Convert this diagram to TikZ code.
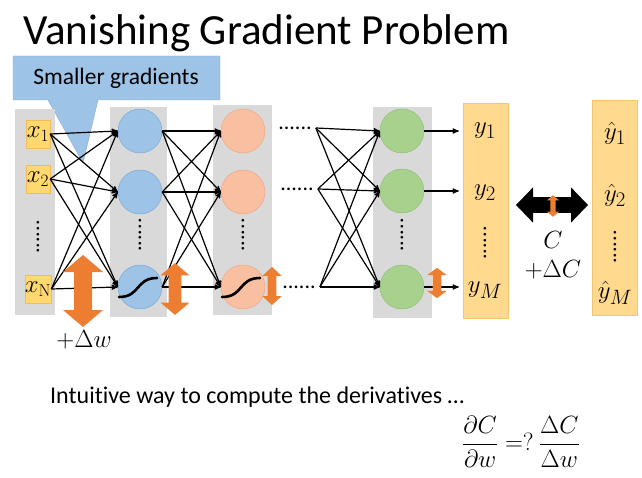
\documentclass[tikz,border=0pt]{standalone}
\usepackage{amsmath}
\usepackage[no-math]{fontspec}
\setmainfont{Carlito}[Ligatures=NoCommon]
\usetikzlibrary{arrows,positioning,calc}

\definecolor{callblue}{HTML}{9DC3E6}
\definecolor{callline}{HTML}{86ACD8}
\definecolor{laygray}{HTML}{D9D9D9}
\definecolor{inyellow}{HTML}{FFD870}
\definecolor{inline}{HTML}{F2BC5C}
\definecolor{outyellow}{HTML}{FFD98E}
\definecolor{outline}{HTML}{F6C56F}
\definecolor{unitblue}{HTML}{9DC3E6}
\definecolor{blueline}{HTML}{72A4D6}
\definecolor{unitorange}{HTML}{F8BFA0}
\definecolor{orangeline}{HTML}{EFA27F}
\definecolor{unitgreen}{HTML}{A9D18E}
\definecolor{greenline}{HTML}{8DBB6E}
\definecolor{arrorange}{HTML}{ED7D31}

\begin{document}
\begin{tikzpicture}[x=1pt,y=-1pt,>=stealth',on grid,
  layer/.style={fill=laygray},
  inbox/.style={rectangle,draw=inline,fill=inyellow,minimum width=24pt,minimum height=28pt,inner sep=0pt,font=\fontsize{23}{25}\selectfont},
  unit/.style={circle,minimum size=44pt,inner sep=0pt},
  blueunit/.style={unit,fill=unitblue,draw=blueline},
  orangeunit/.style={unit,fill=unitorange,draw=orangeline},
  greenunit/.style={unit,fill=unitgreen,draw=greenline},
  outbox/.style={rectangle,fill=outyellow,draw=outline,minimum width=45pt,minimum height=215pt,inner sep=0pt},
  vdots/.style={rotate=90,inner sep=0pt,font=\fontsize{22}{24}\selectfont},
  hdots/.style={inner sep=4pt,font=\fontsize{22}{24}\selectfont},
  outlabel/.style={inner sep=0pt,font=\fontsize{30}{32}\selectfont},
  wire/.style={->,line width=1.2pt},
  sigm/.style={line width=2.6pt,line cap=round},
  updown/.pic={\fill[pic actions] (0,-36) -- (20,-19) -- (9,-19) -- (9,19) -- (20,19) -- (0,36) -- (-20,19) -- (-9,19) -- (-9,-19) -- (-20,-19) -- cycle;}]
  \useasboundingbox (0,0) rectangle (642,478);

  \node[anchor=base west,inner sep=0pt,font=\fontsize{43}{46}\selectfont] (title) at (23,45) {Vanishing Gradient Problem};

  % callout
  \filldraw[fill=callblue,draw=callline] (13,56) -- (220,56) -- (220,100) -- (98,100) -- (83,163) -- (48,100) -- (13,100) -- cycle;
  \node[font=\fontsize{23.5}{26}\selectfont] (callout) at (116,78) {Smaller gradients};

  % layers
  \fill[layer] (15,109) rectangle (55,315);
  \fill[layer] (110,107) rectangle (167,317);
  \fill[layer] (213,105) rectangle (272,315);
  \fill[layer] (373,107) rectangle (432,318);

  \node[inbox]      (x1) at (38,134)         {$x_1$};
  \node[inbox]      (x2) [below=45pt of x1]  {$x_2$};
  \node[vdots]      (xd) [below=103pt of x1] {......};
  \node[inbox]      (xN) [below=155pt of x1] {$x_{\mathrm{N}}$};

  \node[blueunit]   (a1) at (140,131)        {};
  \node[blueunit]   (a2) [below=61pt of a1]  {};
  \node[vdots]      (ad) [below=104pt of a1] {......};
  \node[blueunit]   (aN) [below=156pt of a1] {};

  \node[orangeunit] (b1) [right=103pt of a1] {};
  \node[orangeunit] (b2) [below=61pt of b1]  {};
  \node[vdots]      (bd) [below=104pt of b1] {......};
  \node[orangeunit] (bN) [below=156pt of b1] {};

  \node[hdots]      (d1) at (295,128)        {......};
  \node[hdots]      (d2) at (297,189)        {......};
  \node[hdots]      (dN) at (299,287)        {......};

  \node[greenunit]  (c1) at (402,131)        {};
  \node[greenunit]  (c2) [below=60pt of c1]  {};
  \node[vdots]      (cd) [below=104pt of c1] {......};
  \node[greenunit]  (cN) [below=156pt of c1] {};

  \node[outbox]     (ycol) at (485.5,210.5)  {};
  \node[outlabel]   (y1) at (485,131)        {$y_1$};
  \node[outlabel]   (y2) [below=62pt of y1]  {$y_2$};
  \node[vdots]      (yd) [below=112pt of y1] {......};
  \node[outlabel]   (yM) [below=159pt of y1] {$y_M$};

  \node[outbox]     (hcol) at (615,207.5)    {};
  \node[outlabel]   (h1) at (615,133)        {$\hat{y}_1$};
  \node[outlabel]   (h2) [below=62pt of h1]  {$\hat{y}_2$};
  \node[vdots]      (hd) [below=114pt of h1] {......};
  \node[outlabel]   (hM) [below=160pt of h1] {$\hat{y}_M$};

  \path[wire] (x1.east) edge (a1.west) (x1.east) edge (a2.west) (x1.east) edge (aN.west)
              (x2.east) edge (a1.west) (x2.east) edge (a2.west) (x2.east) edge (aN.west)
              (xN.east) edge (a1.west) (xN.east) edge (a2.west) (xN.east) edge (aN.west)
              (a1.east) edge (b1.west) (a1.east) edge (b2.west) (a1.east) edge (bN.west)
              (a2.east) edge (b1.west) (a2.east) edge (b2.west) (a2.east) edge (bN.west)
              (aN.east) edge (b1.west) (aN.east) edge (b2.west) (aN.east) edge (bN.west)
              (d1.east) edge (c1.west) (d1.east) edge (c2.west) (d1.east) edge (cN.west)
              (d2.east) edge (c1.west) (d2.east) edge (c2.west) (d2.east) edge (cN.west)
              (dN.east) edge (c1.west) (dN.east) edge (c2.west) (dN.east) edge (cN.west)
              (c1.east) edge [shorten >=4pt] (c1 -| ycol.west)
              (c2.east) edge [shorten >=4pt] (c2 -| ycol.west)
              (cN.east) edge [shorten >=4pt] (cN -| ycol.west);

  \draw[sigm] ($(aN)+(-21,10)$) to[out=0,in=180,looseness=1.3] ($(aN)+(17,-9)$);
  \draw[sigm] ($(bN)+(-21,10)$) to[out=0,in=180,looseness=1.3] ($(bN)+(17,-9)$);

  % changes
  \pic[fill=arrorange] at (83,291) {updown};
  \pic[fill=arrorange,scale=0.72] at (175,289) {updown};
  \pic[fill=arrorange,xscale=0.48,yscale=0.53] at (272,286) {updown};
  \pic[fill=arrorange,xscale=0.48,yscale=0.42] at (437,283) {updown};
  \pic[fill=black,rotate=90,xscale=0.88] at (552,205) {updown};
  \pic[fill=arrorange,scale=0.3] at (553,206) {updown};

  \node[font=\fontsize{23}{25}\selectfont] (dw) at (84,340) {$+\Delta w$};
  \node[font=\fontsize{23}{25}\selectfont] (cost) at (553,240) {$C$};
  \node[font=\fontsize{23}{25}\selectfont] (dc) at (553,270) {$+\Delta C$};

  \node[anchor=west,inner sep=0pt,font=\fontsize{24}{28}\selectfont] (intuit) at (50,397) {Intuitive way to compute the derivatives \ldots};
  \node[font=\fontsize{23}{25}\selectfont] (deriv) at (521,442) {$\dfrac{\partial C}{\partial w} =?\ \dfrac{\Delta C}{\Delta w}$};
\end{tikzpicture}
\end{document}
